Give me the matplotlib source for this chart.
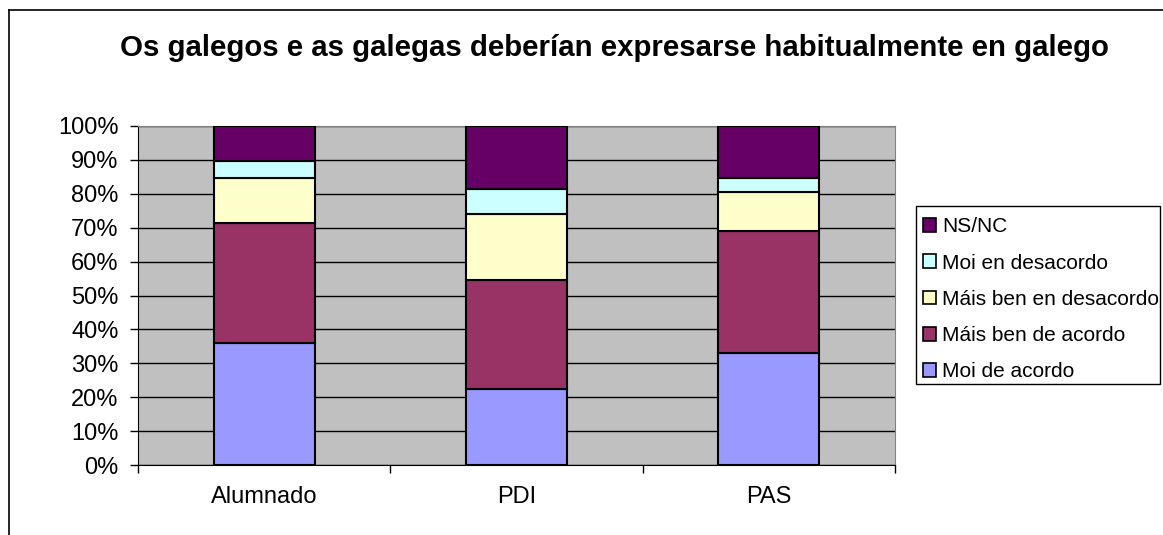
import numpy as np
import matplotlib.pyplot as plt
from matplotlib.patches import Patch, Rectangle
from matplotlib.lines import Line2D

plt.rcParams['font.family'] = ['Liberation Sans', 'DejaVu Sans']

# data (percent)
groups = ['Alumnado', 'PDI', 'PAS']
series = ['Moi de acordo', 'Máis ben de acordo', 'Máis ben en desacordo', 'Moi en desacordo', 'NS/NC']
moi_acordo = [35.9, 22.4, 33.0]
mais_acordo = [35.6, 32.3, 36.0]
mais_desacordo = [13.2, 19.3, 11.6]
moi_desacordo = [5.0, 7.4, 4.0]
nsnc = [10.3, 18.6, 15.4]
colors = ['#9999FF', '#993366', '#FFFFCC', '#CCFFFF', '#660066']

W, H = 1163, 535
fig = plt.figure(figsize=(W/100, H/100), dpi=100)
ax = fig.add_axes([138/W, 1-465/H, (895-138)/W, (465-126)/H])
ax.set_facecolor('#C0C0C0')

vals = [moi_acordo, mais_acordo, mais_desacordo, moi_desacordo, nsnc]
x = np.arange(len(groups))
bottom = np.zeros(len(groups))
for v, c in zip(vals, colors):
	v = np.array(v)
	ax.bar(x, v, width=0.4, bottom=bottom, color=c, edgecolor='black', linewidth=1.5, zorder=3)
	bottom = bottom + v

ax.set_xlim(-0.5, 2.5)
ax.set_ylim(0, 100)
ax.set_yticks(np.arange(0, 101, 10))
ax.set_yticklabels(['%d%%' % t for t in range(0, 101, 10)], fontsize=17)
ax.yaxis.grid(True, color='black', linewidth=1, zorder=1)
ax.set_xticks(x)
ax.set_xticklabels(groups, fontsize=17)
ax.set_xticks([-0.5, 0.5, 1.5, 2.5], minor=True)
ax.tick_params(axis='x', which='major', length=0, pad=15)
ax.tick_params(axis='x', which='minor', length=6, width=1)
ax.tick_params(axis='y', length=6, width=1, pad=8)
for s in ['top', 'right']:
	ax.spines[s].set_color('#808080')
for s in ['left', 'bottom']:
	ax.spines[s].set_color('black')

# legend: fixed frame, long label runs up to its right edge as in the original
handles = [Patch(facecolor=c, edgecolor='black', linewidth=1.2) for c in colors][::-1]
leg = fig.legend(handles, series[::-1], loc='upper left', bbox_to_anchor=(916/W, 1-210/H),
	fontsize=15, frameon=False, handlelength=0.62,
	handleheight=0.62, handletextpad=0.3, labelspacing=0.83, borderpad=0.35, borderaxespad=0)
fig.add_artist(Rectangle((916/W, 1-384/H), (1160-916)/W, (384-206)/H, transform=fig.transFigure,
	facecolor='none', edgecolor='black', linewidth=1))

fig.text(614/W, 1-48/H, 'Os galegos e as galegas deberían expresarse habitualmente en galego',
	ha='center', va='center', fontsize=21.2, fontweight='bold')

# outer chart frame
fig.add_artist(Line2D([9/W, 9/W], [0, 1-10/H], color='black', linewidth=1.2))
fig.add_artist(Line2D([9/W, 1], [1-10/H, 1-10/H], color='black', linewidth=1.2))

fig.savefig('out.png', dpi=100)
